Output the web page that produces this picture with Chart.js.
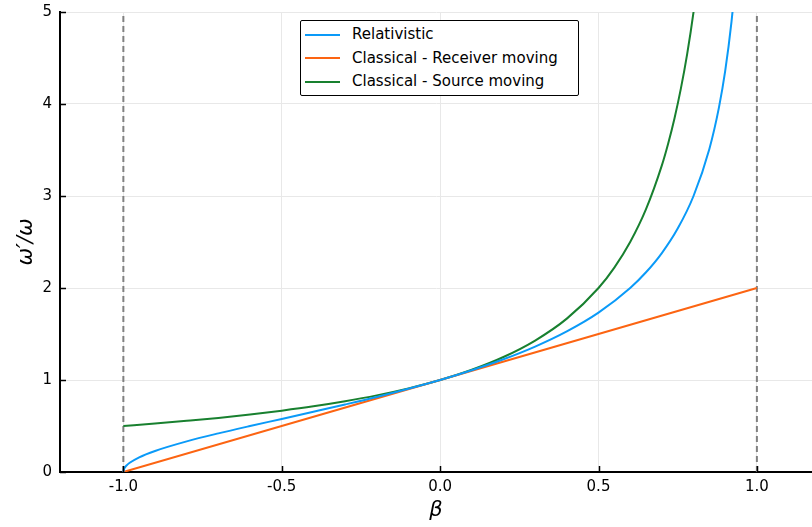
<!DOCTYPE html>
<html lang="en">
<head>
    <title>Doppler shift: relativistic vs classical</title>
    <script src="https://cdn.jsdelivr.net/npm/chart.js"></script>
    <style>
        body { margin: 0; background: #fff; }
        #chartContainer {
            position: relative;
            width: 812px;
            height: 527px;
        }
        #legend {
            position: absolute;
            left: 300px;
            top: 20px;
            width: 279px;
            height: 76px;
            border: 1.5px solid #000;
            border-radius: 2px;
            background: #fff;
            font-family: "DejaVu Sans", sans-serif;
            font-size: 15px;
            color: #000;
            box-sizing: border-box;
            padding-top: 2px;
        }
        #legend .row { height: 23.5px; line-height: 23.5px; white-space: nowrap; }
        #legend .swatch {
            display: inline-block;
            width: 35px;
            height: 2px;
            margin: 0 12px 0 4px;
            vertical-align: middle;
        }
    </style>
</head>
<body>

<div id="chartContainer">
    <canvas id="dopplerChart" width="812" height="527"></canvas>
    <div id="legend"></div>
</div>

<script>
// values
const relBeta  = [-1, -0.999, -0.995, -0.99, -0.98, -0.95, -0.9, -0.8, -0.7, -0.6, -0.5, -0.4, -0.3, -0.2, -0.1, 0, 0.1, 0.2, 0.3, 0.4, 0.5, 0.6, 0.65, 0.7, 0.75, 0.8, 0.85, 0.88, 0.9, 0.92, 0.93];
const relOmega = [0, 0.022, 0.050, 0.071, 0.100, 0.160, 0.229, 0.333, 0.420, 0.5, 0.577, 0.655, 0.734, 0.816, 0.905, 1, 1.106, 1.225, 1.363, 1.528, 1.732, 2.0, 2.171, 2.380, 2.646, 3.0, 3.512, 3.958, 4.359, 4.899, 5.251];

const recvBeta  = [-1, 1];
const recvOmega = [0, 2];

const srcBeta  = [-1, -0.9, -0.8, -0.7, -0.6, -0.5, -0.4, -0.3, -0.2, -0.1, 0, 0.1, 0.2, 0.3, 0.4, 0.5, 0.55, 0.6, 0.65, 0.7, 0.72, 0.74, 0.76, 0.78, 0.8, 0.82];
const srcOmega = [0.5, 0.526, 0.556, 0.588, 0.625, 0.667, 0.714, 0.769, 0.833, 0.909, 1, 1.111, 1.25, 1.429, 1.667, 2.0, 2.222, 2.5, 2.857, 3.333, 3.571, 3.846, 4.167, 4.545, 5.0, 5.556];

const limitBeta = [-1, 1];
const yRange = [0, 5];

const xTicks = [-1, -0.5, 0, 0.5, 1];
const xTickLabels = ['-1.0', '-0.5', '0.0', '0.5', '1.0'];
const yTicks = [0, 1, 2, 3, 4, 5];
const yTickLabels = ['0', '1', '2', '3', '4', '5'];

const seriesNames = ['Relativistic', 'Classical - Receiver moving', 'Classical - Source moving'];
const seriesColors = ['#0a9af8', '#fc6412', '#18802f'];

function pts(xs, ys) {
    return xs.map((x, i) => ({ x: x, y: ys[i] }));
}

function curve(label, xs, ys, color) {
    return {
        label: label,
        data: pts(xs, ys),
        borderColor: color,
        backgroundColor: color,
        borderWidth: 2,
        pointRadius: 0,
        cubicInterpolationMode: 'monotone',
        fill: false
    };
}

const datasets = [
    curve(seriesNames[0], relBeta, relOmega, seriesColors[0]),
    curve(seriesNames[1], recvBeta, recvOmega, seriesColors[1]),
    curve(seriesNames[2], srcBeta, srcOmega, seriesColors[2])
];

// dashed limits at beta = -1 and beta = 1
limitBeta.forEach(b => {
    datasets.push({
        label: 'limit',
        data: pts([b, b], yRange),
        borderColor: '#808080',
        borderWidth: 2,
        borderDash: [6, 4],
        pointRadius: 0,
        fill: false
    });
});

// small inward tick marks, like the original plot
const innerTicks = {
    id: 'innerTicks',
    afterDatasetsDraw(chart) {
        const ctx = chart.ctx;
        const a = chart.chartArea;
        const xs = chart.scales.x, ys = chart.scales.y;
        ctx.save();
        ctx.strokeStyle = '#000';
        ctx.lineWidth = 1.5;
        ctx.beginPath();
        xTicks.forEach(v => {
            const px = Math.round(xs.getPixelForValue(v)) + 0.5;
            ctx.moveTo(px, a.bottom);
            ctx.lineTo(px, a.bottom - 6);
        });
        yTicks.forEach(v => {
            const py = Math.round(ys.getPixelForValue(v)) + 0.5;
            ctx.moveTo(a.left, py);
            ctx.lineTo(a.left + 6, py);
        });
        ctx.stroke();
        ctx.restore();
    }
};

const tickFont = { family: 'DejaVu Sans', size: 15 };
const titleFont = { family: 'DejaVu Sans', size: 21, style: 'italic' };

const ctx = document.getElementById('dopplerChart').getContext('2d');
const dopplerChart = new Chart(ctx, {
    type: 'line',
    data: { datasets: datasets },
    options: {
        responsive: false,
        animation: false,
        layout: { padding: { top: 12, right: 0, left: 0, bottom: 0 } },
        plugins: {
            legend: { display: false },
            tooltip: { enabled: false }
        },
        scales: {
            x: {
                type: 'linear',
                min: -1.2,
                max: 1.174,
                afterBuildTicks: s => { s.ticks = xTicks.map(v => ({ value: v })); },
                afterFit: s => { s.height = 55; s.paddingLeft = 0; s.paddingRight = 0; },
                ticks: {
                    color: '#000',
                    font: tickFont,
                    padding: 6,
                    maxRotation: 0,
                    callback: (v, i) => xTickLabels[i]
                },
                grid: { color: '#e8e8e8', lineWidth: 1, drawTicks: false },
                border: { color: '#000', width: 2 },
                title: {
                    display: true,
                    text: 'β',
                    color: '#000',
                    font: titleFont,
                    padding: { top: 2 }
                }
            },
            y: {
                type: 'linear',
                min: 0,
                max: 5,
                afterBuildTicks: s => { s.ticks = yTicks.map(v => ({ value: v })); },
                afterFit: s => { s.width = 60; s.paddingTop = 0; s.paddingBottom = 0; },
                ticks: {
                    color: '#000',
                    font: tickFont,
                    padding: 8,
                    callback: (v, i) => yTickLabels[i]
                },
                grid: { color: '#e8e8e8', lineWidth: 1, drawTicks: false },
                border: { color: '#000', width: 2 },
                title: {
                    display: true,
                    text: 'ω′/ω',
                    color: '#000',
                    font: titleFont,
                    padding: { top: 14, bottom: 4 }
                }
            }
        }
    },
    plugins: [innerTicks]
});

// legend drawn inside the plot, built from the series
const legendEl = document.getElementById('legend');
seriesNames.forEach((name, i) => {
    const row = document.createElement('div');
    row.className = 'row';
    const sw = document.createElement('span');
    sw.className = 'swatch';
    sw.style.background = seriesColors[i];
    row.appendChild(sw);
    row.appendChild(document.createTextNode(name));
    legendEl.appendChild(row);
});
</script>

</body>
</html>
